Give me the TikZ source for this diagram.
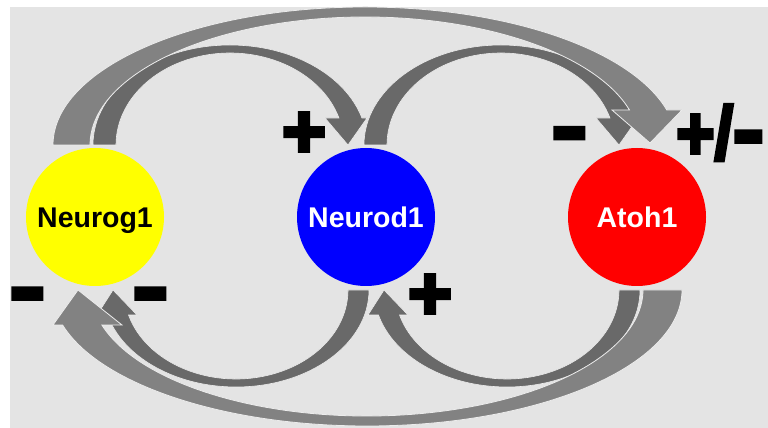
\documentclass[tikz,border=0pt]{standalone}
\usepackage{fontspec}
\setmainfont{Liberation Sans}
\newfontfamily\signfont[BoldFeatures={FakeBold=5}]{Liberation Sans}
\usetikzlibrary{calc}
\definecolor{bg}{RGB}{228,228,228}
\definecolor{darkarrow}{RGB}{105,105,105}
\definecolor{lightarrow}{RGB}{130,130,130}
\definecolor{geneyellow}{RGB}{255,255,0}
\definecolor{geneblue}{RGB}{0,0,255}
\definecolor{genered}{RGB}{255,0,0}
\newcommand\heavyminus{\scalebox{1.4}[1.15]{-}}
\begin{document}
\begin{tikzpicture}[x=1pt,y=1pt,
  gene/.style={circle, minimum size=138pt, inner sep=0pt, text height=20.5pt, text depth=0pt,
    font=\fontsize{28.5}{30}\selectfont\bfseries},
  sign/.style={font=\signfont\bfseries\fontsize{75}{75}\selectfont, inner sep=0pt, anchor=base},
  darkarr/.style={fill=darkarrow, draw=white!30!bg, line width=0.6pt},
  lightarr/.style={fill=lightarrow, draw=white!30!bg, line width=0.8pt}]
\useasboundingbox (0,0) rectangle (768,428);
\fill[white] (0,0) rectangle (768,428);
\fill[bg] (10,0) rectangle (768,421);

% genes
\node[gene, fill=geneyellow, text=black] (neurog) at (95,211) {Neurog1};
\node[gene, fill=geneblue, text=white] (neurod) at (366,211) {Neurod1};
\node[gene, fill=genered, text=white] (atoh) at (637,211) {Atoh1};

% dark arrows
% Neurog1 -> Neurod1
\path[darkarr] (93,283) arc[start angle=180, end angle={asin(27/100)}, x radius=137pt, y radius=100pt]
  -- (367,310) -- (348,283) -- (325,310)
  -- ($(230,283)+({asin(27/92)}:114pt and 92pt)$)
  arc[start angle={asin(27/92)}, end angle=180, x radius=114pt, y radius=92pt] -- cycle;
% Neurod1 -> Atoh1
\begin{scope}[xshift=271pt]
\path[darkarr] (93,283) arc[start angle=180, end angle={asin(27/100)}, x radius=137pt, y radius=100pt]
  -- (367,310) -- (348,283) -- (325,310)
  -- ($(230,283)+({asin(27/92)}:114pt and 92pt)$)
  arc[start angle={asin(27/92)}, end angle=180, x radius=114pt, y radius=92pt] -- cycle;
\end{scope}
% Neurod1 -> Neurog1
\path[darkarr] (369,138) arc[start angle=0, end angle={-180+asin(25/97)}, x radius=133pt, y radius=97pt]
  -- (97,113) -- (113,138) -- (137,113)
  -- ($(236,138)+({-180+asin(25/89)}:112pt and 89pt)$)
  arc[start angle={-180+asin(25/89)}, end angle=0, x radius=112pt, y radius=89pt] -- cycle;
% Atoh1 -> Neurod1
\begin{scope}[xshift=271pt]
\path[darkarr] (369,138) arc[start angle=0, end angle={-180+asin(25/97)}, x radius=133pt, y radius=97pt]
  -- (97,113) -- (113,138) -- (137,113)
  -- ($(236,138)+({-180+asin(25/89)}:112pt and 89pt)$)
  arc[start angle={-180+asin(25/89)}, end angle=0, x radius=112pt, y radius=89pt] -- cycle;
\end{scope}

% light arrows
% Neurog1 -> Atoh1
\path[lightarr] (53,283) arc[start angle=180, end angle={asin(35/138)}, x radius=312pt, y radius=138pt]
  -- (682,318) -- (650,285) -- (612,318)
  -- ($(365,283)+({asin(35/128)}:275pt and 128pt)$)
  arc[start angle={asin(35/128)}, end angle=180, x radius=275pt, y radius=128pt] -- cycle;
% Atoh1 -> Neurog1
\path[lightarr] (682,138) arc[start angle=0, end angle={-180+asin(35/136)}, x radius=315pt, y radius=136pt]
  -- (53,103) -- (78,138) -- (122,103)
  -- ($(367,138)+({-180+asin(35/126)}:276pt and 126pt)$)
  arc[start angle={-180+asin(35/126)}, end angle=0, x radius=276pt, y radius=126pt] -- cycle;

% signs
\node[sign] (plusA) at (304,271) {+};
\node[sign] (plusB) at (430,109) {+};
\node[sign] (minusA) at (27.5,112) {\heavyminus};
\node[sign] (minusB) at (150.5,112) {\heavyminus};
\node[sign] (minusC) at (569.5,272.5) {\heavyminus};
\node[sign, anchor=base west, xscale=0.88] (pm) at (676,269) {+/\heavyminus};
\end{tikzpicture}
\end{document}
